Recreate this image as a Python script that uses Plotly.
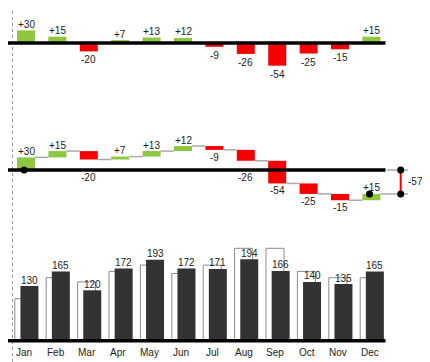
import plotly.graph_objects as go

months = ["Jan", "Feb", "Mar", "Apr", "May", "Jun", "Jul", "Aug", "Sep", "Oct", "Nov", "Dec"]
actual = [130, 165, 120, 172, 193, 172, 171, 194, 166, 140, 135, 165]
plan = [100, 150, 140, 165, 180, 160, 180, 220, 220, 165, 150, 150]
delta = [a - p for a, p in zip(actual, plan)]

GREEN = "#8DC63F"
RED = "#F50000"
DARK = "#333333"
FONT = dict(family="Liberation Sans, Arial, sans-serif", size=10, color="#222")

# page body has an 8px margin; figure is placed at (8, 8)
OFF = 8
W, H = 430 - OFF, 362 - OFF
S = 0.42  # px per unit
PX0, STEP = 26.0 - OFF, 31.4
xr = [-PX0 / STEP, (W - PX0) / STEP]

def px_to_x(px):
    return (px - OFF - PX0) / STEP

def panel(a, b, base):
    a, b, base = a - OFF, b - OFF, base - OFF
    a = max(a, 0)
    dom = [1 - b / H, 1 - a / H]
    rng = [-(b - base) / S, (base - a) / S]
    return dom, rng

d1, r1 = panel(0, 105, 43)
d2, r2 = panel(105, 228, 170)
d3, r3 = panel(228, 362, 340.7)

x = list(range(len(months)))
bw = 18 / STEP
cols = [GREEN if d >= 0 else RED for d in delta]

fig = go.Figure()

# Panel 1: variances
fig.add_trace(go.Bar(x=x, y=delta, width=bw, marker=dict(color=cols, line=dict(width=0)),
                     xaxis="x", yaxis="y", hoverinfo="skip"))

# Panel 2: waterfall
cum = []
c = 0
starts = []
for d in delta:
    starts.append(c)
    c += d
    cum.append(c)
fig.add_trace(go.Bar(x=x, y=delta, base=starts, width=bw, marker=dict(color=cols, line=dict(width=0)),
                     xaxis="x", yaxis="y2", hoverinfo="skip"))
# connectors
cx, cy = [], []
for i in range(len(x) - 1):
    cx += [x[i] + bw / 2, x[i + 1] - bw / 2, None]
    cy += [cum[i], cum[i], None]
end_x = px_to_x(408)
cx += [x[-1] + bw / 2, end_x, None, px_to_x(387), end_x]
cy += [cum[-1], cum[-1], None, 0, 0]
fig.add_trace(go.Scatter(x=cx, y=cy, mode="lines", line=dict(color="#AAAAAA", width=1.5),
                         xaxis="x", yaxis="y2", hoverinfo="skip"))
tot_x = px_to_x(400.7)
fig.add_trace(go.Scatter(x=[tot_x, tot_x], y=[0, cum[-1]], mode="lines+markers",
                         line=dict(color=RED, width=2), marker=dict(color="black", size=7),
                         xaxis="x", yaxis="y2", hoverinfo="skip"))
fig.add_trace(go.Scatter(x=[x[0] - 0.06, x[-1] - 0.06], y=[0, cum[-1]], mode="markers",
                         marker=dict(color="black", size=7), xaxis="x", yaxis="y2", hoverinfo="skip"))

# Panel 3: plan vs actual
fig.add_trace(go.Bar(x=x, y=plan, width=bw, offset=-0.07 - bw / 2,
                     marker=dict(color="white", line=dict(color="#8A8A8A", width=1)),
                     xaxis="x", yaxis="y3", hoverinfo="skip"))
fig.add_trace(go.Bar(x=x, y=actual, width=bw, offset=0.11 - bw / 2,
                     marker=dict(color=DARK, line=dict(width=0)),
                     xaxis="x", yaxis="y3", hoverinfo="skip"))

ann = []
def lab(xv, yv, text, yref, shift):
    ann.append(dict(x=xv, y=yv, xref="x", yref=yref, text=text, showarrow=False,
                    yanchor="middle", xanchor="center", yshift=shift, font=FONT))

for i, d in enumerate(delta):
    t = f"+{d}" if d > 0 else f"{d}"
    # panel 1
    lab(x[i], d, t, "y", 6 if d >= 0 else -8.5)
    # panel 2
    top = max(starts[i], cum[i])
    bot = min(starts[i], cum[i])
    if d >= 0:
        lab(x[i], top, t, "y2", 6)
    else:
        yv = bot
        if months[i] in ("Mar", "Aug"):
            yv = 0
        lab(x[i], yv, t, "y2", -7.5)
    # panel 3
    lab(x[i] + 0.11, actual[i], str(actual[i]), "y3", 6)
    lab(x[i] - 0.06, 0, months[i], "y3", -11.5)

ann.append(dict(x=px_to_x(406), y=cum[-1] / 2, xref="x", yref="y2", text=f"{cum[-1]}",
                showarrow=False, xanchor="left", yanchor="middle", font=FONT))

shapes = []
bl0, bl1 = px_to_x(8), px_to_x(385.5)
for yr in ("y", "y2", "y3"):
    shapes.append(dict(type="line", xref="x", yref=yr, x0=bl0, x1=bl1, y0=0, y1=0,
                       line=dict(color="black", width=3.5)))
vx = px_to_x(12.5)
shapes.append(dict(type="line", xref="x", yref="paper", x0=vx, x1=vx, y0=0, y1=1,
                   line=dict(color="#999999", width=1, dash="dot"), layer="below"))

ax = dict(visible=False, fixedrange=True)
fig.update_layout(
    width=W, height=H, margin=dict(l=0, r=0, t=0, b=0),
    paper_bgcolor="white", plot_bgcolor="white",
    showlegend=False, barmode="overlay", font=FONT,
    xaxis=dict(range=xr, anchor="y3", **ax),
    yaxis=dict(domain=d1, range=r1, **ax),
    yaxis2=dict(domain=d2, range=r2, **ax),
    yaxis3=dict(domain=d3, range=r3, **ax),
    annotations=ann, shapes=shapes,
)

fig.write_html("out.html")
